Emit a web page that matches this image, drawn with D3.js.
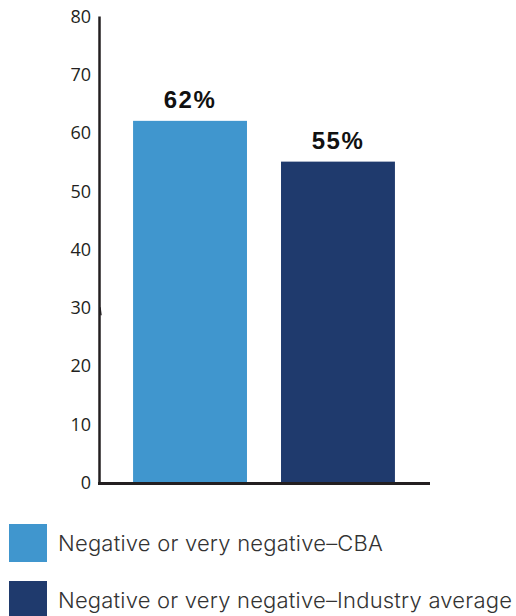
<!DOCTYPE html>
<html>
<head>
<meta charset="utf-8">
<script src="https://cdn.jsdelivr.net/npm/d3@7"></script>
<style>
  html, body { margin: 0; padding: 0; background: #fff; }
  svg { display: block; }
</style>
</head>
<body>
<svg id="chart" width="516" height="616"></svg>
<script>
// Share of respondents answering "negative or very negative"
const categories = ["Negative or very negative–CBA", "Negative or very negative–Industry average"];
const values = [62, 55];
const valueLabels = ["62%", "55%"];
const colors = ["#4096CE", "#1F3A6D"];
const yTicks = [0, 10, 20, 30, 40, 50, 60, 70, 80];

const svg = d3.select("#chart");

const x = d3.scaleBand()
  .domain(categories)
  .range([98, 430])
  .paddingInner(0.23)
  .paddingOuter(0.237);

const y = d3.scaleLinear()
  .domain([0, 80])
  .range([482, 16]);

// bars
svg.selectAll("rect.bar")
  .data(categories)
  .join("rect")
  .attr("class", "bar")
  .attr("x", d => x(d))
  .attr("width", x.bandwidth())
  .attr("y", (d, i) => y(values[i]))
  .attr("height", (d, i) => y(0) - y(values[i]))
  .attr("fill", (d, i) => colors[i]);

// value labels above bars
svg.selectAll("text.val")
  .data(categories)
  .join("text")
  .attr("class", "val")
  .attr("x", d => x(d) + x.bandwidth() / 2)
  .attr("y", (d, i) => y(values[i]) - 13)
  .attr("text-anchor", "middle")
  .attr("font-family", "'Liberation Sans', Arial, sans-serif")
  .attr("font-weight", "bold")
  .attr("font-size", 24)
  .attr("letter-spacing", 1.5)
  .attr("fill", "#111")
  .text((d, i) => valueLabels[i]);

// y axis
const yAxis = d3.axisLeft(y).tickValues(yTicks).tickSize(0).tickPadding(8);
const gy = svg.append("g").attr("transform", "translate(99,0)").call(yAxis);
gy.select(".domain").attr("stroke", "#231F20").attr("stroke-width", 2.5);
gy.selectAll(".tick text")
  .attr("font-family", "'Open Sans', sans-serif")
  .attr("font-size", 18)
  .attr("fill", "#231F20")
  .attr("dy", "0.36em");

// small notch on the axis at 30
svg.append("line")
  .attr("x1", 100).attr("x2", 101)
  .attr("y1", y(30)).attr("y2", y(30) + 8)
  .attr("stroke", "#231F20")
  .attr("stroke-width", 1.5);

// x axis baseline
svg.append("line")
  .attr("x1", 98).attr("x2", 430)
  .attr("y1", y(0) + 1.5).attr("y2", y(0) + 1.5)
  .attr("stroke", "#231F20")
  .attr("stroke-width", 3);

// legend
const legendWidths = [325, 454];
const legend = svg.selectAll("g.legend")
  .data(categories)
  .join("g")
  .attr("class", "legend")
  .attr("transform", (d, i) => `translate(9, ${524 + i * 57})`);

legend.append("rect")
  .attr("width", 38).attr("height", 38)
  .attr("fill", (d, i) => colors[i]);

legend.append("text")
  .attr("x", 49)
  .attr("y", 27)
  .attr("font-family", "Inter, 'Open Sans', sans-serif")
  .attr("font-weight", 300)
  .attr("font-size", 22)
  .attr("fill", "#333")
  .text(d => d)
  .each(function(d, i) {
    // spread letters so each label spans its intended width
    const w = this.getComputedTextLength();
    const n = d.length;
    const ls = (legendWidths[i] - w) / n;
    d3.select(this).attr("letter-spacing", ls.toFixed(2));
  });
</script>
</body>
</html>
